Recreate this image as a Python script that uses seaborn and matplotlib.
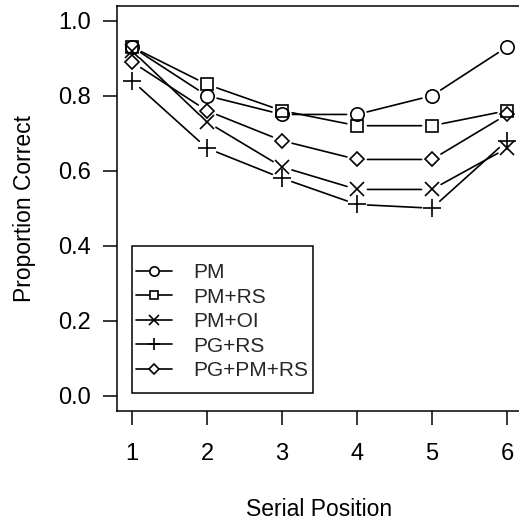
import matplotlib
matplotlib.use("Agg")
import matplotlib.pyplot as plt
from matplotlib.lines import Line2D
from matplotlib.patches import Rectangle
import seaborn as sns
import pandas as pd

positions = [1, 2, 3, 4, 5, 6]
pm = [0.93, 0.80, 0.75, 0.75, 0.80, 0.93]
pm_rs = [0.93, 0.83, 0.76, 0.72, 0.72, 0.76]
pm_oi = [0.92, 0.73, 0.61, 0.55, 0.55, 0.66]
pg_rs = [0.84, 0.66, 0.58, 0.51, 0.50, 0.68]
pg_pm_rs = [0.89, 0.76, 0.68, 0.63, 0.63, 0.75]
series_names = ["PM", "PM+RS", "PM+OI", "PG+RS", "PG+PM+RS"]
series_values = [pm, pm_rs, pm_oi, pg_rs, pg_pm_rs]
x_ticks = [1, 2, 3, 4, 5, 6]
y_ticks = [0.0, 0.2, 0.4, 0.6, 0.8, 1.0]

markers = {"PM": "o", "PM+RS": "s", "PM+OI": "x", "PG+RS": "+", "PG+PM+RS": "D"}
msizes = {"PM": 9.6, "PM+RS": 8.9, "PM+OI": 9.4, "PG+RS": 13, "PG+PM+RS": 7.6}

sns.set_style("white")
plt.rcParams["font.family"] = ["Liberation Sans", "DejaVu Sans"]

fig = plt.figure(figsize=(5.19, 5.25), dpi=100)
ax = fig.add_axes([117 / 519, (525 - 410.7) / 525, 405 / 519, 405 / 525])

df = pd.DataFrame({
    "pos": positions * len(series_names),
    "val": [v for s in series_values for v in s],
    "cond": [n for n in series_names for _ in positions],
})

lw = 1.2
for name in series_names:
    sub = df[df["cond"] == name]
    sns.lineplot(data=sub, x="pos", y="val", ax=ax, color="black",
                 marker=markers[name], markersize=msizes[name],
                 markerfacecolor="none", markeredgecolor="black",
                 markeredgewidth=lw, linewidth=0, legend=False)
    xs = sub["pos"].tolist()
    ys = sub["val"].tolist()
    for i in range(len(xs) - 1):
        ax.annotate("", xy=(xs[i + 1], ys[i + 1]), xytext=(xs[i], ys[i]),
                    arrowprops=dict(arrowstyle="-", color="black", lw=lw,
                                    shrinkA=7.5, shrinkB=7.5))

ax.set_xlim(0.8, 6.2)
ax.set_ylim(-0.04, 1.04)
ax.set_xticks(x_ticks)
ax.set_xticklabels([str(t) for t in x_ticks])
ax.set_yticks(y_ticks)
ax.set_yticklabels([f"{t:.1f}" for t in y_ticks])
ax.tick_params(axis="both", direction="out", length=10, width=1.1,
               color="black", labelsize=17, labelcolor="black",
               bottom=True, left=True)
ax.tick_params(axis="y", pad=9)
ax.tick_params(axis="x", pad=13)
for sp in ax.spines.values():
    sp.set_visible(True)
    sp.set_color("black")
    sp.set_linewidth(1.1)
ax.set_xlabel("Serial Position", fontsize=16.5, labelpad=24, color="black")
ax.set_ylabel("Proportion Correct", fontsize=16.5, labelpad=16, color="black")

handles = [Line2D([0], [0], color="black", lw=lw, marker=markers[n],
                  markersize=msizes[n] * 0.7, markerfacecolor="white",
                  markeredgecolor="black", markeredgewidth=lw)
           for n in series_names]
leg = ax.legend(handles, series_names, loc="upper left",
                bbox_to_anchor=(1.05, 0.353), bbox_transform=ax.transData,
                frameon=False, fontsize=15, handlelength=1.75,
                handletextpad=1.0, labelspacing=0.26, borderpad=0,
                borderaxespad=0)
ax.add_patch(Rectangle((0.996, 0.008), 3.417 - 0.996, 0.4 - 0.008,
                       fill=False, edgecolor="black", linewidth=1.1,
                       transform=ax.transData, zorder=5))

fig.savefig("out.png", dpi=100)
